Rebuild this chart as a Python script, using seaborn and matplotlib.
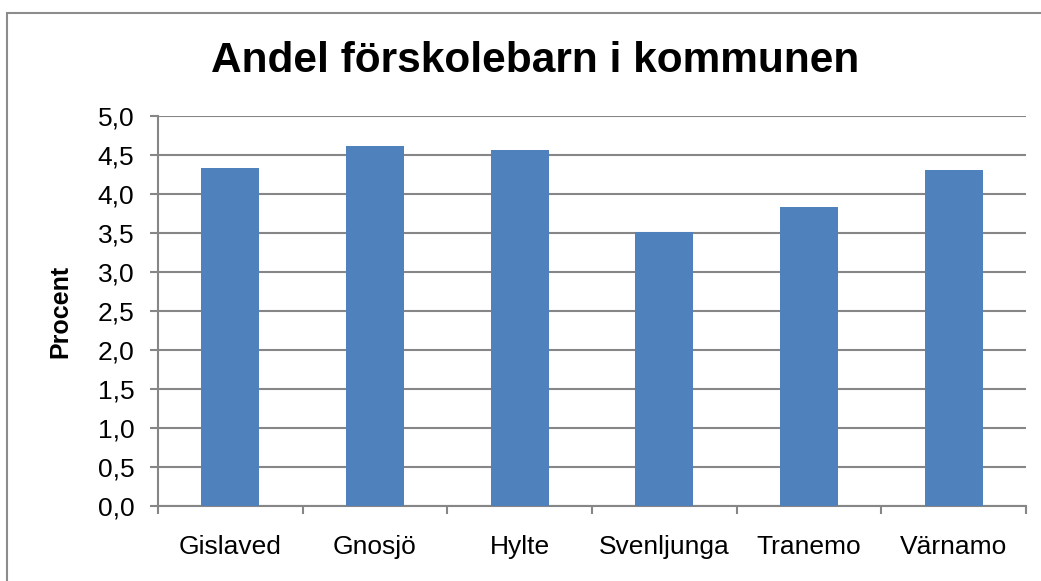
import matplotlib
matplotlib.use("Agg")
import matplotlib.pyplot as plt
import matplotlib.patches as patches
from matplotlib.ticker import FixedLocator, FuncFormatter
import pandas as pd
import seaborn as sns

# Andel förskolebarn per kommun (procent)
kommuner = ['Gislaved', 'Gnosjö', 'Hylte', 'Svenljunga', 'Tranemo', 'Värnamo']
procent = [4.33, 4.62, 4.56, 3.51, 3.83, 4.31]
y_ticks = [0.0, 0.5, 1.0, 1.5, 2.0, 2.5, 3.0, 3.5, 4.0, 4.5, 5.0]

df = pd.DataFrame({'Kommun': kommuner, 'Procent': procent})

sns.set_style('white')
plt.rcParams['font.family'] = ['Liberation Sans', 'DejaVu Sans']
plt.rcParams['text.color'] = 'black'
plt.rcParams['xtick.color'] = 'black'
plt.rcParams['ytick.color'] = 'black'
plt.rcParams['axes.labelcolor'] = 'black'

grid_col = '#868686'

fig = plt.figure(figsize=(10.41, 5.81), dpi=100)
ax = fig.add_axes([158 / 1041, 75 / 581, 868 / 1041, 390 / 581])

sns.barplot(data=df, x='Kommun', y='Procent', color='#4F81BD', width=0.4,
            saturation=1, linewidth=0, ax=ax, zorder=3)

ax.set_xlim(-0.5, len(kommuner) - 0.5)
ax.set_ylim(0, 5.0)
ax.set_yticks(y_ticks)
ax.yaxis.set_major_formatter(FuncFormatter(lambda v, p: f'{v:.1f}'.replace('.', ',')))
ax.yaxis.grid(True, color=grid_col, linewidth=1.5, zorder=0)
ax.set_axisbelow(True)

# kategorigränser som ticks (Excel-stil)
ax.xaxis.set_minor_locator(FixedLocator([i - 0.5 for i in range(len(kommuner) + 1)]))
ax.tick_params(axis='x', which='major', length=0, pad=21, labelsize=19)
ax.tick_params(axis='x', which='minor', length=6, width=1.5, color=grid_col, direction='out', bottom=True)
ax.tick_params(axis='y', length=6, width=1.5, color=grid_col, labelcolor='black',
               direction='out', left=True, pad=11, labelsize=19)

for s in ['top', 'right']:
    ax.spines[s].set_visible(False)
for s in ['left', 'bottom']:
    ax.spines[s].set_color(grid_col)
    ax.spines[s].set_linewidth(1.5)

ax.set_xlabel('')
ax.set_ylabel('Procent', fontsize=18, fontweight='bold')
ax.yaxis.set_label_coords(-0.099, 0.5)

fig.text(0.514, 0.895, 'Andel förskolebarn i kommunen', fontsize=30.5, fontweight='bold',
         ha='center', va='center')

# yttre ram
fig.patches.append(patches.Rectangle((7 / 1041, -0.1), 1.2, (581 - 13) / 581 + 0.1,
                                     transform=fig.transFigure, fill=False,
                                     edgecolor='#8c8c8c', linewidth=1.5))

fig.savefig('out.png', dpi=100)
